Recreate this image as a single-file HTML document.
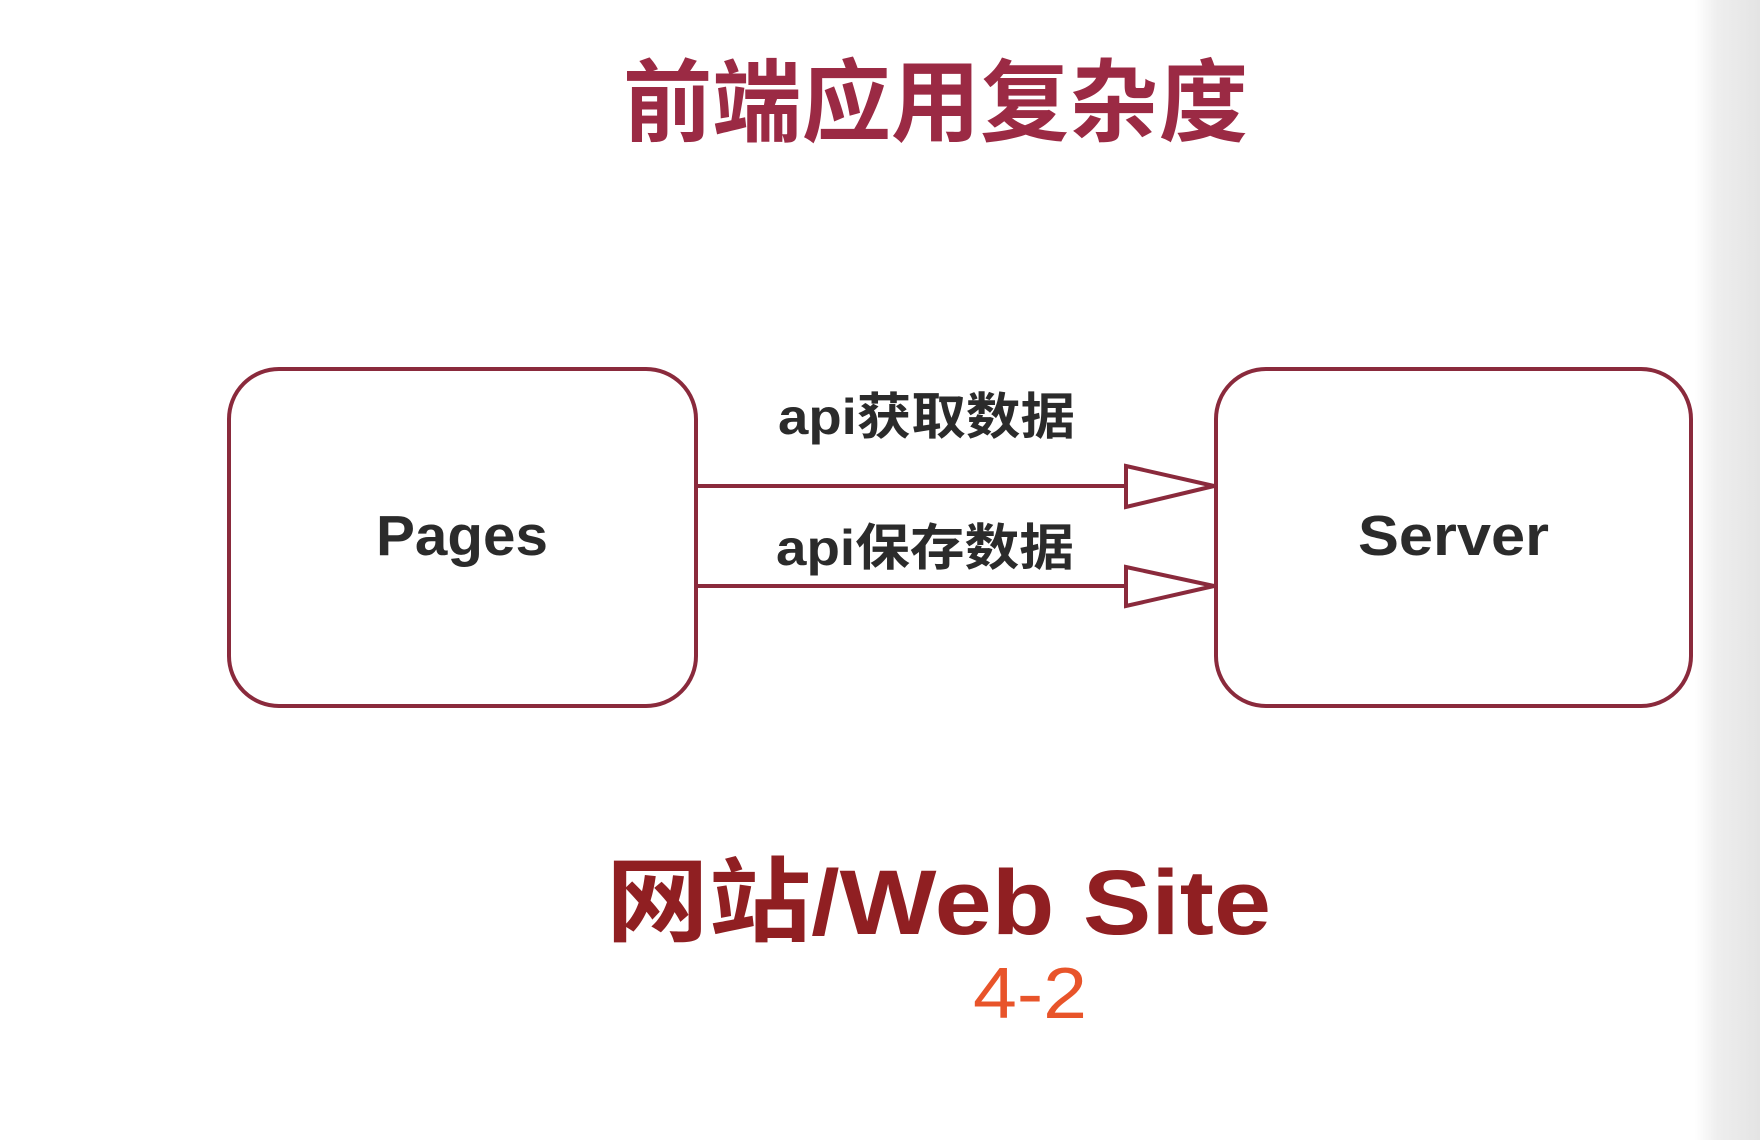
<!DOCTYPE html>
<html><head><meta charset="utf-8"><style>
html,body{margin:0;padding:0;background:#fff;}
svg{display:block;}
</style></head><body>
<svg width="1760" height="1140" viewBox="0 0 1760 1140" xmlns="http://www.w3.org/2000/svg">
<defs>
<linearGradient id="g" x1="0" x2="1"><stop offset="0" stop-color="#fff"/><stop offset="0.35" stop-color="#eee"/><stop offset="1" stop-color="#e4e4e4"/></linearGradient>
</defs>
<rect x="0" y="0" width="1760" height="1140" fill="#fff"/>
<rect x="1695" y="0" width="65" height="1140" fill="url(#g)"/>
<text x="623" y="134" textLength="625" lengthAdjust="spacingAndGlyphs" font-family="Liberation Sans, Noto Sans CJK SC, sans-serif" font-weight="bold" font-size="90" fill="#9b2a44">前端应用复杂度</text>
<rect x="229" y="369" width="467" height="337" rx="50" fill="#fff" stroke="#8a2a3c" stroke-width="4"/>
<rect x="1216" y="369" width="475" height="337" rx="50" fill="#fff" stroke="#8a2a3c" stroke-width="4"/>
<g stroke="#8a2a3c" stroke-width="4" fill="#fff">
<line x1="698" y1="486" x2="1126" y2="486"/>
<polygon points="1126,466 1214,486 1126,507"/>
<line x1="698" y1="586" x2="1126" y2="586"/>
<polygon points="1126,567 1214,586 1126,606"/>
</g>
<g font-family="Liberation Sans, Noto Sans CJK SC, sans-serif" font-weight="bold" fill="#2b2b2b">
<text x="778" y="434" textLength="297" lengthAdjust="spacingAndGlyphs" font-size="50">api获取数据</text>
<text x="776" y="565" textLength="298" lengthAdjust="spacingAndGlyphs" font-size="50">api保存数据</text>
<text x="376" y="555" textLength="172" lengthAdjust="spacingAndGlyphs" font-size="57">Pages</text>
<text x="1358" y="555" textLength="191" lengthAdjust="spacingAndGlyphs" font-size="57">Server</text>
</g>
<text x="606" y="934" textLength="665" lengthAdjust="spacingAndGlyphs" font-family="Liberation Sans, Noto Sans CJK SC, sans-serif" font-weight="bold" font-size="92" fill="#901f22">网站/Web Site</text>
<text x="973" y="1018" textLength="114" lengthAdjust="spacingAndGlyphs" font-family="Liberation Sans, sans-serif" font-size="72" fill="#e8542a">4-2</text>
</svg>
</body></html>
